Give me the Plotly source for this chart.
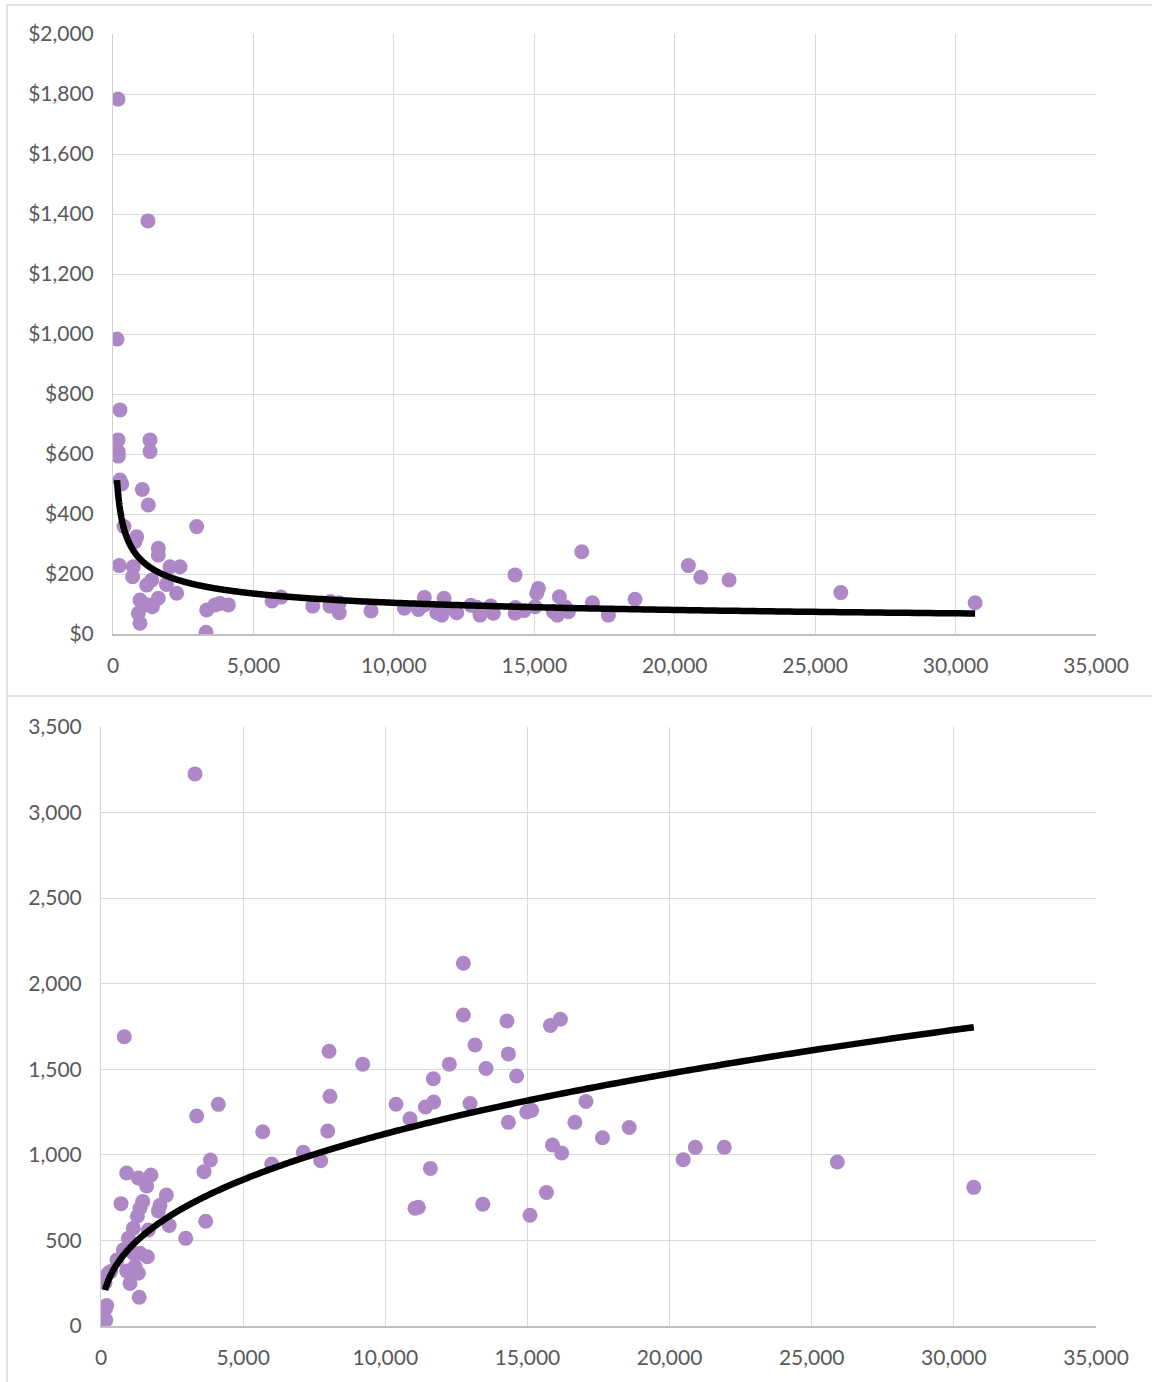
import numpy as np
import plotly.graph_objects as go

# ---- Upper panel: cost per unit vs. volume ----
upper_volume = [
    142, 178, 178, 185, 190, 249, 249, 310, 224, 392,
    723, 701, 842, 783, 961, 1257, 901, 961, 1043, 1246,
    1257, 1318, 1318, 1378, 1200, 1400, 1613, 1613, 1613, 2030,
    2386, 2267, 1900, 2980, 3312, 3336, 3632, 3810, 4106,
    5662, 5982, 7111, 7727, 7740, 8058, 8058, 9187, 10374, 10873,
    11080, 11087, 11527, 11705, 11787, 11880, 12239, 12740, 12951, 13069,
    13164, 13449, 13544, 14315, 14315, 14330, 14635, 15027, 15087, 15146,
    15680, 15822, 15894, 16096, 16214, 16690, 17069, 17638, 18588, 20487,
    20928, 21935, 25913, 30696,
]
upper_cost = [
    983, 1783, 647, 607, 593, 747, 513, 500, 228, 358,
    224, 191, 324, 308, 113, 97, 69, 36, 482, 1377,
    430, 647, 608, 180, 163, 91, 119, 286, 263, 224,
    224, 136, 165, 358, 6, 80, 97, 102, 97,
    110, 123, 93, 93, 108, 104, 71, 77, 86, 82,
    97, 122, 71, 63, 119, 86, 71, 96, 89, 63,
    78, 93, 69, 197, 69, 88, 78, 91, 136, 152,
    74, 63, 124, 91, 74, 274, 104, 63, 116, 228,
    189, 180, 138, 104,
]

# ---- Lower panel: total vs. volume ----
lower_volume = [
    141, 150, 170, 200, 258, 341, 560, 704, 785, 820,
    903, 903, 962, 1020, 1137, 1137, 1196, 1280, 1313, 1313,
    1343, 1372, 1372, 1470, 1548, 1606, 1630, 1665, 1759, 2016,
    2076, 2300, 2400, 2980, 3307, 3366, 3624, 3683, 3850, 4127,
    5688, 6004, 7117, 7728, 7975, 8021, 8056, 9206, 10378, 10870,
    11046, 11163, 11410, 11586, 11690, 11703, 12253, 12747, 12747, 12981,
    13157, 13430, 13544, 14280, 14330, 14330, 14620, 14975, 15090, 15150,
    15670, 15810, 15880, 16160, 16205, 16670, 17060, 17640, 18580, 20480,
    20905, 21925, 25900, 30700,
]
lower_total = [
    253, 100, 35, 120, 308, 318, 386, 715, 444, 1690,
    894, 322, 512, 249, 571, 425, 347, 641, 865, 308,
    168, 688, 425, 727, 843, 818, 405, 561, 882, 672,
    705, 765, 587, 512, 3226, 1227, 902, 612, 970, 1295,
    1135, 947, 1015, 966, 1139, 1605, 1342, 1530, 1296, 1211,
    688, 694, 1280, 921, 1445, 1309, 1530, 1817, 2120, 1300,
    1642, 712, 1505, 1782, 1590, 1190, 1461, 1250, 647, 1260,
    780, 1756, 1058, 1792, 1011, 1190, 1312, 1100, 1160, 972,
    1044, 1044, 958, 810,
]

x_ticks = list(range(0, 35001, 5000))
upper_y_ticks = list(range(0, 2001, 200))
lower_y_ticks = list(range(0, 3501, 500))

W, H = 1152, 1382
MARKER = "#AD87C6"
GRID = "#D9D9D9"
TEXT = "#595959"
FONT = "Lato"


def power_trend(x, y, n=600):
    """Least-squares power fit y = a * x^b, evaluated across the data's x span."""
    x = np.asarray(x, float)
    y = np.asarray(y, float)
    b, ln_a = np.polyfit(np.log(x), np.log(y), 1)
    xs = np.geomspace(x.min(), x.max(), n)
    return xs, np.exp(ln_a) * xs ** b


def px_x(p):
    return p / W


def px_y(p):
    return 1 - p / H


fig = go.Figure()

ux, uy = power_trend(upper_volume, upper_cost)
lx, ly = power_trend(lower_volume, lower_total)

trend_line = dict(color="black", width=6.5, simplify=False)

fig.add_trace(go.Scatter(x=upper_volume, y=upper_cost, mode="markers",
                         marker=dict(color=MARKER, size=15, line=dict(width=0)),
                         xaxis="x", yaxis="y"))
fig.add_trace(go.Scatter(x=ux, y=uy, mode="lines", line=trend_line,
                         xaxis="x", yaxis="y"))
fig.add_trace(go.Scatter(x=lower_volume, y=lower_total, mode="markers",
                         marker=dict(color=MARKER, size=15, line=dict(width=0)),
                         xaxis="x2", yaxis="y2"))
fig.add_trace(go.Scatter(x=lx, y=ly, mode="lines", line=trend_line,
                         xaxis="x2", yaxis="y2"))

tickfont = dict(family=FONT, size=21, color=TEXT)

common_x = dict(range=[0, 35000], tickvals=x_ticks, tickformat=",",
                showgrid=True, gridcolor=GRID, gridwidth=1, automargin=False,
                zeroline=False, showline=True, linecolor="#BFBFBF", linewidth=1.5,
                ticks="", tickfont=tickfont, ticklabelstandoff=12)
common_y = dict(showgrid=True, gridcolor=GRID, gridwidth=1, automargin=False,
                zeroline=False, showline=True, linecolor="#D0D0D0", linewidth=1,
                ticks="", tickfont=tickfont, ticklabelstandoff=14)

fig.update_layout(
    width=W, height=H,
    margin=dict(l=0, r=0, t=0, b=0, pad=0, autoexpand=False),
    paper_bgcolor="white", plot_bgcolor="white",
    showlegend=False,
    xaxis=dict(domain=[px_x(113), px_x(1096)], anchor="y", **common_x),
    yaxis=dict(domain=[px_y(634), px_y(34)], anchor="x",
               range=[0, 2000], tickvals=upper_y_ticks,
               tickformat="$,", **common_y),
    xaxis2=dict(domain=[px_x(101), px_x(1096)], anchor="y2", **common_x),
    yaxis2=dict(domain=[px_y(1326), px_y(727)], anchor="x2",
                range=[0, 3500], tickvals=lower_y_ticks,
                tickformat=",", **common_y),
    shapes=[
        dict(type="line", xref="paper", yref="paper",
             x0=px_x(7), x1=1, y0=px_y(5), y1=px_y(5),
             line=dict(color=GRID, width=1.5)),
        dict(type="line", xref="paper", yref="paper",
             x0=px_x(7), x1=1, y0=px_y(696), y1=px_y(696),
             line=dict(color=GRID, width=1.5)),
        dict(type="line", xref="paper", yref="paper",
             x0=px_x(7), x1=px_x(7), y0=px_y(5), y1=0,
             line=dict(color=GRID, width=1.5)),
    ],
)

fig.write_html("out.html")
